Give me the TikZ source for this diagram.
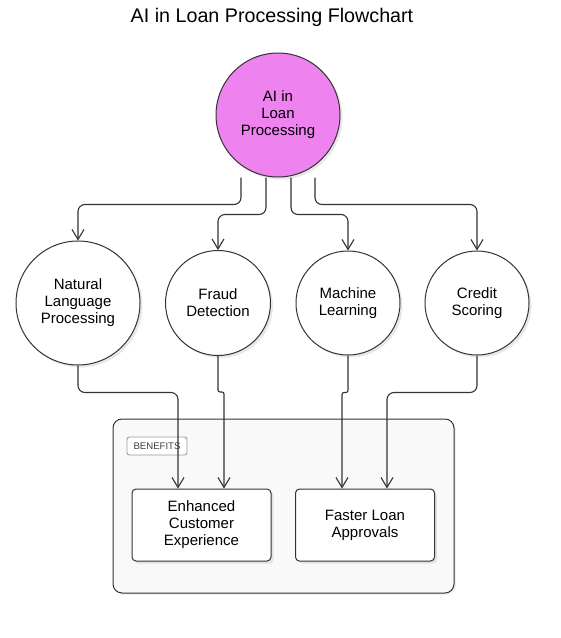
\documentclass[tikz,border=0pt]{standalone}
\usepackage{fontspec}
\setmainfont{Liberation Sans}
\usetikzlibrary{arrows.meta,shadows}

\definecolor{violetfill}{HTML}{EE82EE}
\definecolor{linegray}{HTML}{333333}
\definecolor{groupfill}{HTML}{F9F9F9}
\definecolor{taggray}{HTML}{999999}

\tikzset{
    topic/.style={circle, draw=linegray, line width=1pt, fill=white, align=center, inner sep=0pt,
        font=\fontsize{15}{17}\selectfont,
        drop shadow={shadow xshift=2.5pt, shadow yshift=-2.5pt, opacity=0.18, fill=gray}},
    benefit/.style={rectangle, rounded corners=4pt, draw=linegray, line width=1pt, fill=white, align=center,
        minimum width=139pt, minimum height=72pt, font=\fontsize{15}{17}\selectfont,
        drop shadow={shadow xshift=2.5pt, shadow yshift=-2.5pt, opacity=0.18, fill=gray}},
    flow/.style={draw=linegray, line width=1.1pt, rounded corners=7pt, -{Straight Barb[length=10pt,width=12pt]}}
}

\begin{document}
\begin{tikzpicture}[x=1pt, y=-1pt]
        \useasboundingbox (0,0) rectangle (561,638);

        % Title
        \node[anchor=base, font=\fontsize{19.7}{22}\selectfont] (title) at (272,22) {AI in Loan Processing Flowchart};

        % Central topic
        \node[topic, fill=violetfill, minimum size=124pt] (ai) at (278,115) {AI in\\Loan\\Processing};

        % Techniques
        \node[topic, minimum size=124pt] (nlp) at (78,303) {Natural\\Language\\Processing};
        \node[topic, minimum size=105pt] (fraud) at (218,303) {Fraud\\Detection};
        \node[topic, minimum size=104pt] (ml) at (348,303) {Machine\\Learning};
        \node[topic, minimum size=104pt] (credit) at (477,303) {Credit\\Scoring};

        % Benefits group
        \node[rectangle, rounded corners=9pt, draw=linegray, line width=1pt, fill=groupfill,
            minimum width=341pt, minimum height=174pt,
            drop shadow={shadow xshift=2pt, shadow yshift=-2pt, opacity=0.12, fill=gray}] (group) at (283.5,506) {};
        \node[rectangle, rounded corners=2.5pt, draw=taggray, line width=0.9pt, fill=white, text=black!75,
            minimum width=60pt, minimum height=18pt, inner sep=1pt, font=\fontsize{9.6}{10}\selectfont] (tag) at (157,446) {BENEFITS};
        \node[benefit] (ece) at (201.5,525) {Enhanced\\Customer\\Experience};
        \node[benefit] (fla) at (365,525) {Faster Loan\\Approvals};

        % Connectors from the central topic
        \draw[flow] ([xshift=-37pt]ai.south) -- ++(0,27) -| (nlp.north);
        \draw[flow] ([xshift=-12pt]ai.south) -- ++(0,37) -| (fraud.north);
        \draw[flow] ([xshift=13pt]ai.south) -- ++(0,37) -| (ml.north);
        \draw[flow] ([xshift=37pt]ai.south) -- ++(0,27) -| (credit.north);

        % Connectors to the benefits
        \draw[flow] (nlp.south) -- ++(0,27) -| ([xshift=-23.5pt]ece.north);
        \draw[flow, rounded corners=2pt] (fraud.south) -- ++(0,36) -| ([xshift=22.5pt]ece.north);
        \draw[flow, rounded corners=2pt] (ml.south) -- ++(0,37) -| ([xshift=-23pt]fla.north);
        \draw[flow] (credit.south) -- ++(0,37) -| ([xshift=22pt]fla.north);
\end{tikzpicture}
\end{document}
